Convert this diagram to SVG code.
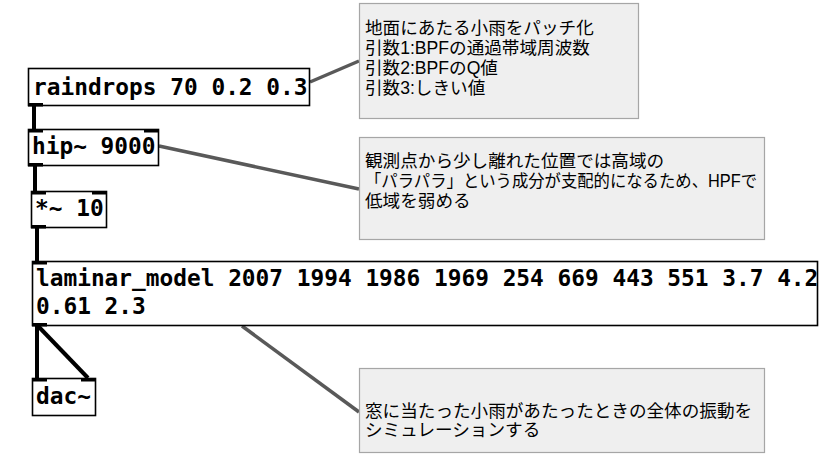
<svg xmlns="http://www.w3.org/2000/svg" width="831" height="470" viewBox="0 0 831 470">
<style>
.obj{fill:#fff;stroke:#000;stroke-width:1.6}
.io{fill:#000}
.pd{font-family:"DejaVu Sans Mono",monospace;font-size:22.8px;font-weight:bold;fill:#000}
.wire{stroke:#000;stroke-width:4;fill:none}
.note{fill:#efefef;stroke:#a6a6a6;stroke-width:1.2}
.lead{stroke:#595959;stroke-width:3.5;fill:none}
.ct{font-family:"Liberation Sans","Noto Sans CJK JP",sans-serif;font-size:17.6px;fill:#000}
</style>
<rect width="831" height="470" fill="#fff"/>
<g id="connectors">
<line class="wire" x1="34" y1="106" x2="34" y2="129"/>
<line class="wire" x1="35" y1="166" x2="35" y2="191"/>
<line class="wire" x1="37" y1="228" x2="37" y2="261"/>
<line class="wire" x1="37" y1="326" x2="37" y2="378"/>
<line class="wire" x1="38" y1="326" x2="88" y2="378"/>
<line class="lead" x1="310" y1="82" x2="359" y2="61"/>
<line class="lead" x1="159" y1="146" x2="359" y2="189"/>
<line class="lead" x1="242" y1="326" x2="359" y2="412"/>
</g>
<g id="raindrops">
<rect class="obj" x="28.5" y="68.5" width="281" height="37"/>
<rect class="io" x="28" y="103" width="15" height="3.5"/>
<text class="pd" x="33" y="95">raindrops 70 0.2 0.3</text>
</g>
<g id="hip">
<rect class="obj" x="28.5" y="129.5" width="130" height="36"/>
<rect class="io" x="28" y="129" width="15" height="3.5"/>
<rect class="io" x="144" y="129" width="15" height="3.5"/>
<rect class="io" x="28" y="163" width="15" height="3.5"/>
<text class="pd" x="32" y="154">hip~ 9000</text>
</g>
<g id="mul">
<rect class="obj" x="31.5" y="191.5" width="75" height="36"/>
<rect class="io" x="31" y="191" width="15" height="3.5"/>
<rect class="io" x="92" y="191" width="15" height="3.5"/>
<rect class="io" x="31" y="225" width="15" height="3.5"/>
<text class="pd" x="35" y="216">*~ 10</text>
</g>
<g id="laminar">
<rect class="obj" x="32.5" y="261.5" width="785" height="64"/>
<rect class="io" x="32" y="261" width="15" height="3.5"/>
<rect class="io" x="32" y="323" width="15" height="3.5"/>
<text class="pd" x="36" y="286">laminar_model 2007 1994 1986 1969 254 669 443 551 3.7 4.2</text>
<text class="pd" x="36" y="314">0.61 2.3</text>
</g>
<g id="dac">
<rect class="obj" x="32.5" y="378.5" width="63" height="37"/>
<rect class="io" x="32" y="378" width="15" height="3.5"/>
<rect class="io" x="81" y="378" width="15" height="3.5"/>
<text class="pd" x="36" y="404">dac~</text>
</g>
<g id="note1">
<rect class="note" x="359.5" y="3.5" width="279" height="115"/>
<text class="ct" x="365" y="34">地面にあたる小雨をパッチ化</text>
<text class="ct" x="365" y="54">引数1:BPFの通過帯域周波数</text>
<text class="ct" x="365" y="74">引数2:BPFのQ値</text>
<text class="ct" x="365" y="94">引数3:しきい値</text>
</g>
<g id="note2">
<rect class="note" x="359.5" y="137.5" width="405" height="102"/>
<text class="ct" x="365" y="167">観測点から少し離れた位置では高域の</text>
<text class="ct" x="365" y="187" textLength="392" lengthAdjust="spacingAndGlyphs">「パラパラ」という成分が支配的になるため、HPFで</text>
<text class="ct" x="365" y="207">低域を弱める</text>
</g>
<g id="note3">
<rect class="note" x="359.5" y="368.5" width="405" height="84"/>
<text class="ct" x="365" y="417">窓に当たった小雨があたったときの全体の振動を</text>
<text class="ct" x="365" y="436">シミュレーションする</text>
</g>
</svg>
